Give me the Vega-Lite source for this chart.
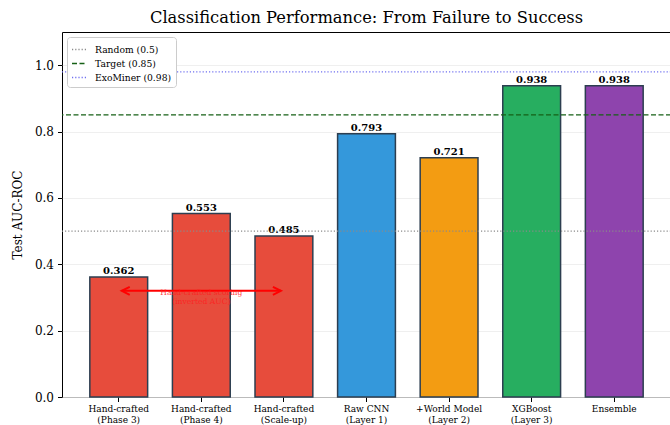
{
  "$schema": "https://vega.github.io/schema/vega-lite/v6.json",
  "autosize": "none",
  "width": 609,
  "height": 365,
  "padding": {"left": 62, "top": 32, "right": 0, "bottom": 28},
  "background": "white",
  "config": {
    "font": "DejaVu Serif",
    "view": {"stroke": "#000000", "strokeWidth": 1},
    "legend": {"labelFontSize": 9.2, "labelFont": "DejaVu Serif", "labelColor": "#000000"}
  },
  "title": {
    "text": "Classification Performance: From Failure to Success",
    "fontSize": 16.3,
    "fontWeight": "normal",
    "font": "DejaVu Serif",
    "color": "#000000",
    "anchor": "middle",
    "frame": "group",
    "offset": 6
  },
  "datasets": {
    "bars": [
      {"label": "Hand-crafted\n(Phase 3)", "auc": 0.362, "group": "Hand-crafted"},
      {"label": "Hand-crafted\n(Phase 4)", "auc": 0.553, "group": "Hand-crafted"},
      {"label": "Hand-crafted\n(Scale-up)", "auc": 0.485, "group": "Hand-crafted"},
      {"label": "Raw CNN\n(Layer 1)", "auc": 0.793, "group": "CNN"},
      {"label": "+World Model\n(Layer 2)", "auc": 0.721, "group": "World Model"},
      {"label": "XGBoost\n(Layer 3)", "auc": 0.938, "group": "XGBoost"},
      {"label": "Ensemble", "auc": 0.938, "group": "Ensemble"}
    ],
    "refs": [
      {"name": "Random (0.5)", "value": 0.5},
      {"name": "Target (0.85)", "value": 0.85},
      {"name": "ExoMiner (0.98)", "value": 0.98}
    ],
    "arrow": [
      {"from": "Hand-crafted\n(Phase 3)", "to": "Hand-crafted\n(Scale-up)", "y": 0.32}
    ],
    "headL": [
      {"at": "Hand-crafted\n(Phase 3)", "y": 0.32}
    ],
    "headR": [
      {"at": "Hand-crafted\n(Scale-up)", "y": 0.32}
    ],
    "note": [
      {"at": "Hand-crafted\n(Phase 4)", "y": 0.312, "text": "Hand-crafted scoring\n(inverted AUC)"}
    ]
  },
  "encoding": {
    "x": {
      "field": "label",
      "type": "nominal",
      "sort": null,
      "scale": {
        "domain": ["Hand-crafted\n(Phase 3)", "Hand-crafted\n(Phase 4)", "Hand-crafted\n(Scale-up)", "Raw CNN\n(Layer 1)", "+World Model\n(Layer 2)", "XGBoost\n(Layer 3)", "Ensemble"],
        "paddingInner": 0.3,
        "paddingOuter": 0.337
      },
      "axis": {
        "title": null,
        "labelAngle": 0,
        "labelExpr": "split(datum.label, '\\n')",
        "labelFontSize": 9,
        "labelColor": "#000000",
        "labelLineHeight": 10.5,
        "tickColor": "#000000",
        "tickSize": 4.5,
        "labelPadding": 3,
        "domain": false
      }
    }
  },
  "layer": [
    {
      "data": {"name": "bars"},
      "mark": {"type": "bar", "stroke": "#2c3e50", "strokeWidth": 1.5},
      "encoding": {
        "y": {
          "field": "auc",
          "type": "quantitative",
          "scale": {"domain": [0, 1.1], "nice": false},
          "axis": {
            "title": "Test AUC-ROC",
            "titleFontSize": 12,
            "titleFontWeight": "normal",
            "titleColor": "#000000",
            "titlePadding": 10,
            "values": [0, 0.2, 0.4, 0.6, 0.8, 1.0],
            "format": ".1f",
            "labelFontSize": 12,
            "labelColor": "#000000",
            "labelPadding": 4,
            "tickColor": "#000000",
            "tickSize": 4.5,
            "domain": false,
            "grid": true,
            "gridColor": "#ebebeb",
            "gridWidth": 0.8
          }
        },
        "fill": {
          "field": "group",
          "type": "nominal",
          "scale": {
            "domain": ["Hand-crafted", "CNN", "World Model", "XGBoost", "Ensemble"],
            "range": ["#e74c3c", "#3498db", "#f39c12", "#27ae60", "#8e44ad"]
          },
          "legend": null
        }
      }
    },
    {
      "data": {"name": "bars"},
      "mark": {"type": "text", "fontWeight": "bold", "fontSize": 10, "dy": -6, "color": "#000000"},
      "encoding": {
        "y": {"field": "auc", "type": "quantitative"},
        "text": {"field": "auc", "type": "quantitative", "format": ".3f"}
      }
    },
    {
      "data": {"name": "refs"},
      "mark": {"type": "rule", "strokeWidth": 1.2},
      "encoding": {
        "x": null,
        "y": {"field": "value", "type": "quantitative"},
        "color": {
          "field": "name",
          "type": "nominal",
          "scale": {
            "domain": ["Random (0.5)", "Target (0.85)", "ExoMiner (0.98)"],
            "range": ["#8a8a8a", "#166016", "#7070f0"]
          },
          "legend": {
            "title": null,
            "orient": "top-left",
            "offset": 5,
            "fillColor": "white",
            "strokeColor": "#cccccc",
            "cornerRadius": 3,
            "padding": 4,
            "labelFontSize": 9.2,
            "symbolType": "stroke",
            "symbolSize": 225,
            "symbolStrokeWidth": 1.3,
            "rowPadding": 0,
            "labelOffset": 7
          }
        },
        "strokeDash": {
          "field": "name",
          "type": "nominal",
          "scale": {
            "domain": ["Random (0.5)", "Target (0.85)", "ExoMiner (0.98)"],
            "range": [[1.2, 2], [5, 2.5], [1.2, 2]]
          },
          "legend": {
            "title": null,
            "orient": "top-left",
            "offset": 5,
            "fillColor": "white",
            "strokeColor": "#cccccc",
            "cornerRadius": 3,
            "padding": 4,
            "labelFontSize": 9.2,
            "symbolType": "stroke",
            "symbolSize": 225,
            "symbolStrokeWidth": 1.3,
            "rowPadding": 0,
            "labelOffset": 7
          }
        }
      }
    },
    {
      "data": {"name": "arrow"},
      "mark": {"type": "rule", "color": "#ff0000", "strokeWidth": 2, "xOffset": 3, "x2Offset": -3},
      "encoding": {
        "x": {"field": "from", "type": "nominal"},
        "x2": {"field": "to"},
        "y": {"field": "y", "type": "quantitative"}
      }
    },
    {
      "data": {"name": "headL"},
      "mark": {"type": "point", "filled": false, "color": "#ff0000", "strokeWidth": 2, "size": 100, "opacity": 1, "xOffset": 3, "shape": "M1.6,-0.8L0,0L1.6,0.8"},
      "encoding": {
        "x": {"field": "at", "type": "nominal"},
        "y": {"field": "y", "type": "quantitative"}
      }
    },
    {
      "data": {"name": "headR"},
      "mark": {"type": "point", "filled": false, "color": "#ff0000", "strokeWidth": 2, "size": 100, "opacity": 1, "xOffset": -3, "shape": "M-1.6,-0.8L0,0L-1.6,0.8"},
      "encoding": {
        "x": {"field": "at", "type": "nominal"},
        "y": {"field": "y", "type": "quantitative"}
      }
    },
    {
      "data": {"name": "note"},
      "mark": {"type": "text", "color": "#ff2020", "fontSize": 7.6, "lineBreak": "\n", "baseline": "middle", "lineHeight": 8.5, "opacity": 0.85},
      "encoding": {
        "x": {"field": "at", "type": "nominal"},
        "y": {"field": "y", "type": "quantitative"},
        "text": {"field": "text"}
      }
    }
  ]
}
